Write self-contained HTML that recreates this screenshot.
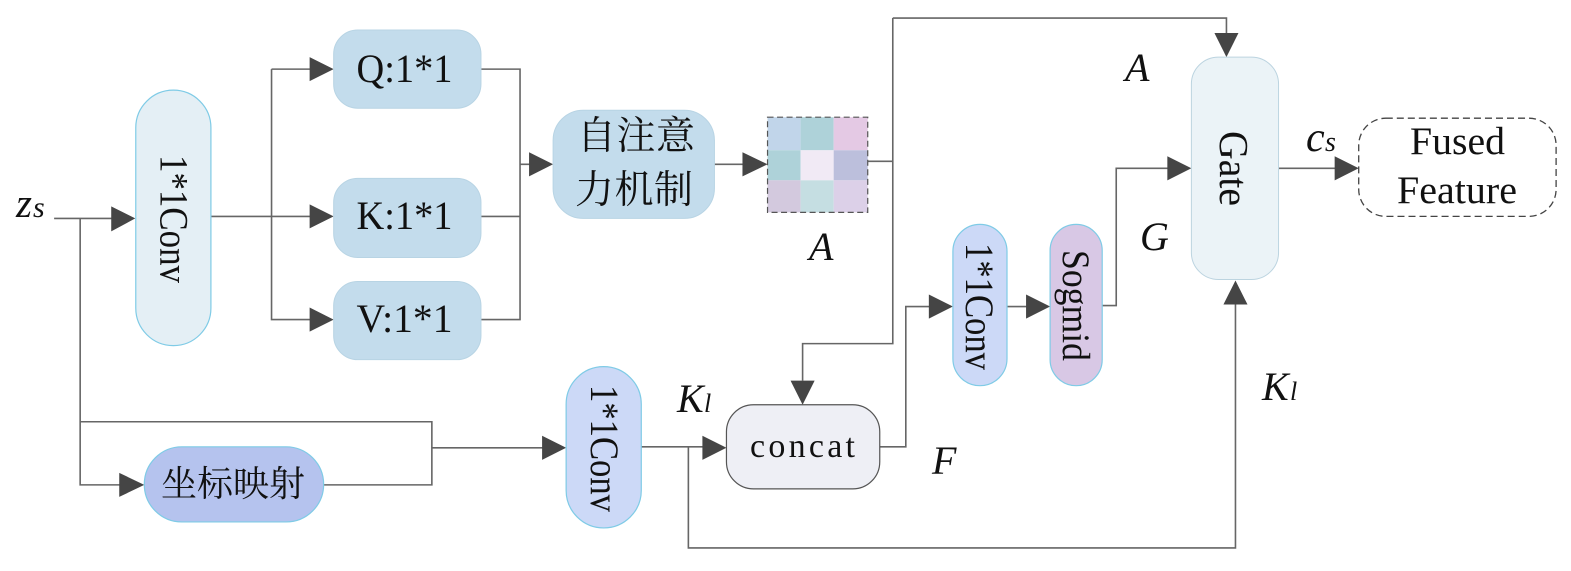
<!DOCTYPE html>
<html><head><meta charset="utf-8"><style>
html,body{margin:0;padding:0;background:#fff}
svg{display:block}
text{font-family:"Liberation Serif","Noto Serif CJK SC",serif;fill:#111}
.i{font-style:italic}
.l{fill:none;stroke:#666;stroke-width:1.6}
.a{fill:#454545}
</style></head><body>
<svg width="1571" height="571" viewBox="0 0 1571 571" xmlns="http://www.w3.org/2000/svg">
<rect width="1571" height="571" fill="#fff"/>
<g transform="scale(1.002 1.0018)">
<!-- connectors -->
<path class="l" d="M54 218H112M80 218V484H120M80 421H431V484H323M431 447H542"/>
<path class="l" d="M211 216H310M271 69H310M271 69V319H310"/>
<path class="l" d="M480 69H519V319H480M480 216H519M519 164H530"/>
<path class="l" d="M713 164H742M866 161H891M891 18V343H801V380M891 18H1224V35"/>
<path class="l" d="M640 446H703M687 446V547H1233V302"/>
<path class="l" d="M878 446H904V306H928M1005 306H1025M1100 305H1114V168H1166M1276 168H1333"/>
<!-- arrowheads -->
<path class="a" d="M135 218L111 206V231Z"/>
<path class="a" d="M333 69L309 57V81Z"/>
<path class="a" d="M333 216L309 204V228Z"/>
<path class="a" d="M333 319L309 307V331Z"/>
<path class="a" d="M552 164L528 152V176Z"/>
<path class="a" d="M766 164L741 152V176Z"/>
<path class="a" d="M144 484L119 472V496Z"/>
<path class="a" d="M565 447L541 435V459Z"/>
<path class="a" d="M725 447L701 435V459Z"/>
<path class="a" d="M951 306L927 294V318Z"/>
<path class="a" d="M1048 306L1024 294V318Z"/>
<path class="a" d="M1189 168L1165 156V180Z"/>
<path class="a" d="M1356 168L1332 156V180Z"/>
<path class="a" d="M801 404L789 380H813Z"/>
<path class="a" d="M1224 57L1212 33H1236Z"/>
<path class="a" d="M1233 280L1221 304H1245Z"/>
<!-- nodes -->
<rect x="135.5" y="90" width="75" height="255" rx="37.5" fill="#e4eff5" stroke="#7fcbe6" stroke-width="1.2"/>
<rect x="333" y="30" width="147" height="78" rx="24" fill="#c3dcec" stroke="#b8d4e4"/>
<rect x="333" y="178" width="147" height="79" rx="24" fill="#c3dcec" stroke="#b8d4e4"/>
<rect x="333" y="281" width="147" height="78" rx="24" fill="#c3dcec" stroke="#b8d4e4"/>
<rect x="552" y="110" width="161" height="108" rx="30" fill="#c3dcec" stroke="#b8d4e4"/>
<rect x="1189" y="57" width="87" height="222" rx="27" fill="#ebf3f7" stroke="#bcd4e0"/>
<rect x="1356" y="118" width="197" height="98" rx="27" fill="#fff" stroke="#444" stroke-width="1.3" stroke-dasharray="7 4"/>
<rect x="565" y="366" width="75" height="161" rx="37.5" fill="#ccd9f7" stroke="#7fcbe6" stroke-width="1.2"/>
<rect x="725" y="404" width="153" height="84" rx="27" fill="#eeeff5" stroke="#555" stroke-width="1.2"/>
<rect x="951" y="224" width="54" height="161" rx="27" fill="#ccd9f7" stroke="#7fcbe6" stroke-width="1.2"/>
<rect x="1048" y="224" width="52" height="161" rx="26" fill="#d8c8e5" stroke="#7fcbe6" stroke-width="1.2"/>
<rect x="144" y="446" width="179" height="75" rx="37.5" fill="#b5c3ee" stroke="#7fcbe6" stroke-width="1.2"/>
<!-- heatmap -->
<rect x="766" y="117" width="33" height="33" fill="#c1d5ea"/>
<rect x="799" y="117" width="33" height="33" fill="#aed2d9"/>
<rect x="832" y="117" width="34" height="33" fill="#e4c9e4"/>
<rect x="766" y="150" width="33" height="30" fill="#aed2d9"/>
<rect x="799" y="150" width="33" height="30" fill="#f1eaf5"/>
<rect x="832" y="150" width="34" height="30" fill="#bcbfdc"/>
<rect x="766" y="180" width="33" height="32" fill="#d3c9de"/>
<rect x="799" y="180" width="33" height="32" fill="#c5dee2"/>
<rect x="832" y="180" width="34" height="32" fill="#dcd0e8"/>
<rect x="766" y="117" width="100" height="95" fill="none" stroke="#555" stroke-width="1.2" stroke-dasharray="6 3.5"/>
</g>
<!-- node labels -->
<text x="356.5" y="82" font-size="40" textLength="96" lengthAdjust="spacingAndGlyphs">Q:1*1</text>
<text x="356.5" y="229" font-size="40" textLength="96" lengthAdjust="spacingAndGlyphs">K:1*1</text>
<text x="356.5" y="332" font-size="40" textLength="96" lengthAdjust="spacingAndGlyphs">V:1*1</text>
<text x="577" y="149" font-size="39" textLength="118" lengthAdjust="spacing">自注意</text>
<text x="575" y="203" font-size="39" textLength="118" lengthAdjust="spacing">力机制</text>
<text x="233" y="496" font-size="36" text-anchor="middle">坐标映射</text>
<text transform="translate(160.5,155) rotate(90)" font-size="40" textLength="128" lengthAdjust="spacingAndGlyphs">1*1Conv</text>
<text transform="translate(591,385) rotate(90)" font-size="40" textLength="127" lengthAdjust="spacingAndGlyphs">1*1Conv</text>
<text transform="translate(966,243) rotate(90)" font-size="40" textLength="127" lengthAdjust="spacingAndGlyphs">1*1Conv</text>
<text transform="translate(1063,250) rotate(90)" font-size="39" textLength="111" lengthAdjust="spacingAndGlyphs">Sogmid</text>
<text transform="translate(1220,131) rotate(90)" font-size="41" textLength="75" lengthAdjust="spacingAndGlyphs">Gate</text>
<text x="750" y="457" font-size="34" textLength="105">concat</text>
<text x="1410" y="154" font-size="39" textLength="95" lengthAdjust="spacingAndGlyphs">Fused</text>
<text x="1397" y="203" font-size="39" textLength="120" lengthAdjust="spacingAndGlyphs">Feature</text>
<!-- italics -->
<text class="i" x="16" y="217" font-size="41">z</text><text class="i" x="33" y="217" font-size="30">s</text>
<text class="i" x="809" y="260" font-size="40">A</text>
<text class="i" x="1125" y="81" font-size="40">A</text>
<text class="i" x="1140" y="250" font-size="40">G</text>
<text class="i" x="1306" y="151" font-size="42">c</text><text class="i" x="1325" y="151" font-size="28">s</text>
<text class="i" x="677" y="412" font-size="40">K</text><text class="i" x="704" y="412" font-size="26">l</text>
<text class="i" x="932" y="474" font-size="40">F</text>
<text class="i" x="1262" y="400" font-size="40">K</text><text class="i" x="1290" y="400" font-size="26">l</text>
</svg>
</body></html>
